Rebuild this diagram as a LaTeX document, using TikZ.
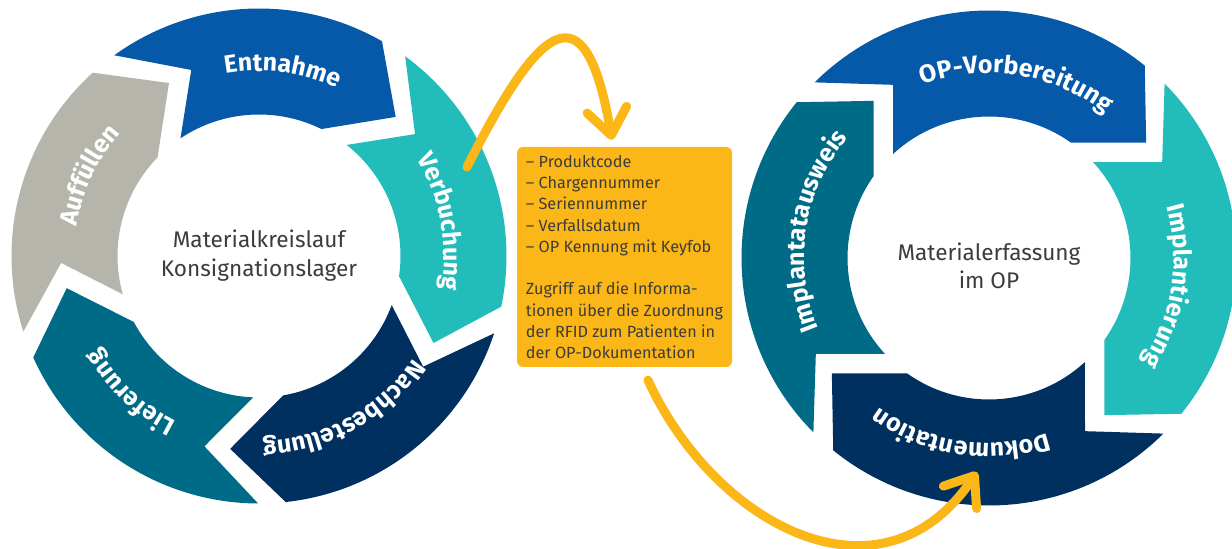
\documentclass[tikz,border=0pt]{standalone}
\usepackage{fontspec}
\setmainfont{Fira Sans}
\usetikzlibrary{arrows.meta, decorations.text}
\definecolor{kblue}{HTML}{0559A8}
\definecolor{kteal}{HTML}{22BDBA}
\definecolor{knavy}{HTML}{003060}
\definecolor{kpetrol}{HTML}{006B87}
\definecolor{kgrey}{HTML}{B6B5AB}
\definecolor{kyellow}{HTML}{FBB718}
\definecolor{ktext}{HTML}{3C3C3B}
\newcommand\labelfont{\fontsize{25}{25}\selectfont\bfseries}
\tikzset{
  hub/.style={align=center, text=ktext, font=\fontsize{22.6}{28.4}\selectfont},
  infobox/.style={fill=kyellow, rounded corners=6pt, minimum width=215pt, minimum height=220pt,
    inner sep=5pt, align=left, text=ktext, font=\fontsize{16.2}{21.3}\selectfont},
  flow/.style={draw=kyellow, line width=9pt, line cap=round,
    -{Straight Barb[length=26pt, width=40pt, round]}},
}
% one ring segment: centre, head angle, span, colour
\newcommand\chevron[4]{%
  \fill[#4, shift={(#1)}] ({#2+#3}:247.5) arc[start angle={#2+#3}, end angle={#2}, radius=247.5]
    -- ({#2-14.7}:195) -- ({#2+3.6}:141.5)
    arc[start angle={#2+3.6}, end angle={#2+#3-2.1}, radius=141.5]
    -- ({#2+#3-15.8}:198) -- cycle;}
% white label bent along the ring, centred on the given angle
\newcommand\steplabel[3]{%
  \path[shift={(#1)}, decorate, decoration={text along path, text align=center,
    text color=white, text={|\labelfont|#3}}]
    ({#2+70}:185) arc[start angle={#2+70}, end angle={#2-70}, radius=185];}

\begin{document}
\begin{tikzpicture}[x=1pt, y=1pt]
  \useasboundingbox[fill=white] (0,0) rectangle (1232,549);
  % ---------------- left ring
  \foreach \h/\c in {60.2/kblue, 348.2/kteal, 276.2/knavy, 204.2/kpetrol, 132.2/kgrey}{
    \chevron{259,293}{\h}{65.6}{\c}}
  \node[hub] (kreislauf) at (259,293.5) {Materialkreislauf\\Konsignationslager};
  \steplabel{259,293}{82.7}{Entnahme}
  \steplabel{259,293}{10.7}{Verbuchung}
  \steplabel{259,293}{298.7}{Nachbestellung}
  \steplabel{259,293}{226.7}{Lieferung}
  \steplabel{259,293}{154.7}{Auffüllen}
  % ---------------- right ring
  \foreach \h/\c in {51/kblue, 321/kteal, 231/knavy, 141/kpetrol}{
    \chevron{989,291}{\h}{83.8}{\c}}
  \node[hub] (erfassung) at (989,283) {Materialerfassung\\im OP};
  \steplabel{989,291}{81}{OP-Vorbereitung}
  \steplabel{989,291}{351}{Implantierung}
  \steplabel{989,291}{261}{Dokumentation}
  \steplabel{989,291}{171}{Implantatausweis}
  % ---------------- data box and arrows
  \node[infobox] (info) at (624.5,292) {%
    -- Produktcode\\
    -- Chargennummer\\
    -- Seriennummer\\
    -- Verfallsdatum\\
    -- OP Kennung mit Keyfob\\[21.3pt]
    Zugriff auf die Informa-\\
    tionen über die Zuordnung\\
    der RFID zum Patienten in\\
    der OP-Dokumentation};
  \coordinate (verb) at (467,382);
  \coordinate (doku) at (977,77);
  \draw[flow] (verb) .. controls +(72,142) and +(-27,158) .. ([shift={(-12.5,7)}]info.north);
  \draw[flow] ([shift={(23.5,-13)}]info.south) .. controls +(67,-146) and +(-95,-141) .. (doku);
\end{tikzpicture}
\end{document}
